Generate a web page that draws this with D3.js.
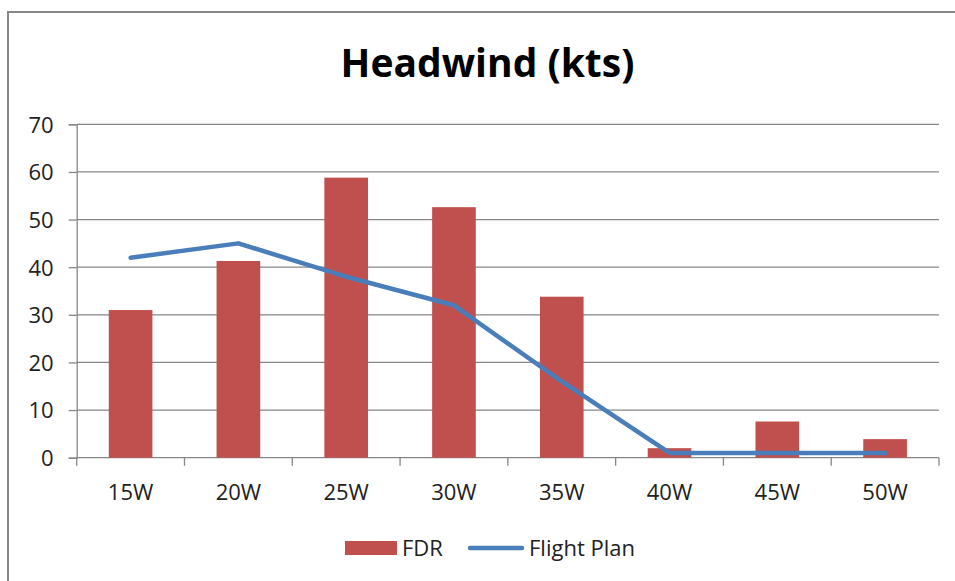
<!DOCTYPE html>
<html>
<head>
<meta charset="utf-8">
<script src="https://cdn.jsdelivr.net/npm/d3@7"></script>
<style>
  html, body { margin: 0; padding: 0; background: #fff; }
  svg { display: block; }
</style>
</head>
<body>
<svg id="chart" width="955" height="581"></svg>
<script>
// Longitude positions along the route
const categories = ["15W", "20W", "25W", "30W", "35W", "40W", "45W", "50W"];
// Headwind recorded by the flight data recorder (kts)
const fdrValues = [31, 41.3, 58.8, 52.6, 33.8, 2, 7.6, 3.9];
// Headwind forecast in the flight plan (kts)
const planValues = [42, 45, 38, 32, 16, 1, 1, 1];
const yTicks = [0, 10, 20, 30, 40, 50, 60, 70];
const seriesNames = ["FDR", "Flight Plan"];

const svg = d3.select("#chart");
const gridColor = "#878787";
const barColor = "#C0504D";
const lineColor = "#4A7EBB";
const font = "'Open Sans', sans-serif";

const plot = { left: 76.7, right: 939, top: 124.3, bottom: 457.7 };

// Chart frame
svg.append("rect")
  .attr("x", 8).attr("y", 12)
  .attr("width", 1200).attr("height", 800)
  .attr("fill", "none")
  .attr("stroke", gridColor)
  .attr("stroke-width", 2);

// Title
svg.append("text")
  .attr("x", 487.5).attr("y", 77)
  .attr("text-anchor", "middle")
  .attr("font-family", font)
  .attr("font-weight", "bold")
  .attr("font-size", 39)
  .attr("fill", "#000")
  .text("Headwind (kts)");

const x = d3.scaleBand()
  .domain(categories)
  .range([plot.left, plot.right])
  .padding(0);

const y = d3.scaleLinear()
  .domain([0, 70])
  .range([plot.bottom, plot.top]);

// Horizontal gridlines
svg.append("g")
  .selectAll("line")
  .data(yTicks.filter(t => t > 0))
  .join("line")
  .attr("x1", plot.left).attr("x2", plot.right)
  .attr("y1", d => y(d)).attr("y2", d => y(d))
  .attr("stroke", gridColor)
  .attr("stroke-width", 1.3);

// Y axis
const yAxis = svg.append("g")
  .attr("transform", `translate(${plot.left},0)`)
  .call(d3.axisLeft(y).tickValues(yTicks).tickSize(8).tickPadding(15).tickFormat(d3.format("d")));
yAxis.select(".domain").attr("stroke", gridColor).attr("stroke-width", 1.3);
yAxis.selectAll(".tick line").attr("stroke", gridColor).attr("stroke-width", 1.3);
yAxis.selectAll(".tick text")
  .attr("font-family", font)
  .attr("font-size", 22)
  .attr("fill", "#222")
  .attr("dy", "0.36em");

// X axis with ticks at category boundaries
const xAxisG = svg.append("g")
  .attr("transform", `translate(0,${plot.bottom})`);
xAxisG.append("line")
  .attr("x1", plot.left).attr("x2", plot.right)
  .attr("stroke", gridColor).attr("stroke-width", 1.3);
const boundaries = categories.map(c => x(c)).concat([x(categories[categories.length - 1]) + x.bandwidth()]);
xAxisG.selectAll("line.tick")
  .data(boundaries)
  .join("line")
  .attr("class", "tick")
  .attr("x1", d => d).attr("x2", d => d)
  .attr("y1", 0).attr("y2", 8)
  .attr("stroke", gridColor).attr("stroke-width", 1.3);
xAxisG.selectAll("text")
  .data(categories)
  .join("text")
  .attr("x", d => x(d) + x.bandwidth() / 2)
  .attr("y", 42.5)
  .attr("text-anchor", "middle")
  .attr("font-family", font)
  .attr("font-size", 22)
  .attr("fill", "#222")
  .text(d => d);

// FDR bars
const barW = x.bandwidth() * 0.405;
svg.append("g")
  .selectAll("rect")
  .data(categories.map((c, i) => ({ c, v: fdrValues[i] })))
  .join("rect")
  .attr("x", d => x(d.c) + (x.bandwidth() - barW) / 2)
  .attr("y", d => y(d.v))
  .attr("width", barW)
  .attr("height", d => y(0) - y(d.v))
  .attr("fill", barColor);

// Flight plan line
const line = d3.line()
  .x(d => x(d.c) + x.bandwidth() / 2)
  .y(d => y(d.v));
svg.append("path")
  .datum(categories.map((c, i) => ({ c, v: planValues[i] })))
  .attr("d", line)
  .attr("fill", "none")
  .attr("stroke", lineColor)
  .attr("stroke-width", 4.5)
  .attr("stroke-linecap", "round")
  .attr("stroke-linejoin", "round");

// Legend
const legend = svg.append("g");
legend.append("rect")
  .attr("x", 345).attr("y", 541)
  .attr("width", 52).attr("height", 14)
  .attr("fill", barColor);
legend.append("text")
  .attr("x", 402).attr("y", 556)
  .attr("font-family", font).attr("font-size", 22).attr("fill", "#222")
  .text(seriesNames[0]);
legend.append("line")
  .attr("x1", 470).attr("x2", 522)
  .attr("y1", 548).attr("y2", 548)
  .attr("stroke", lineColor).attr("stroke-width", 4.5)
  .attr("stroke-linecap", "round");
legend.append("text")
  .attr("x", 529).attr("y", 556)
  .attr("font-family", font).attr("font-size", 22).attr("fill", "#222")
  .text(seriesNames[1]);
</script>
</body>
</html>
